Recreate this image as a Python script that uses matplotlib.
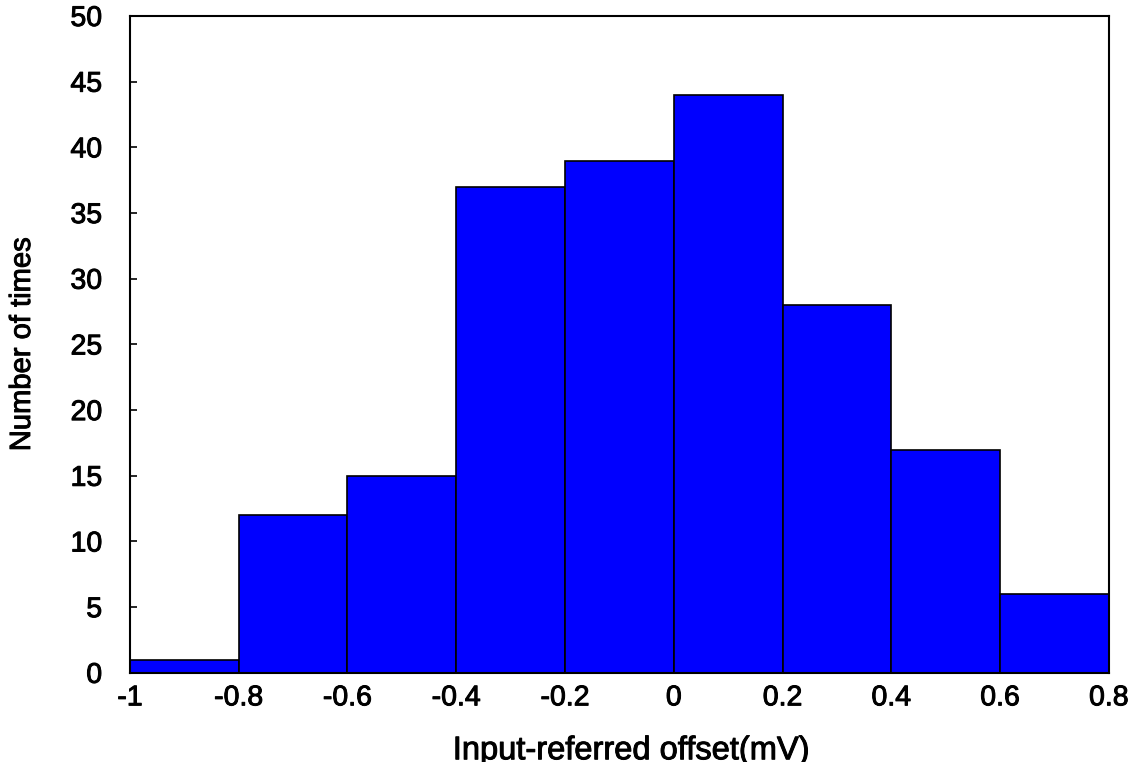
import numpy as np
import matplotlib.pyplot as plt
import matplotlib.patheffects as pe

plt.rcParams['font.family'] = ['Liberation Sans', 'DejaVu Sans']

# histogram of input-referred offset, bin edges in mV
bin_edges = [-1.0, -0.8, -0.6, -0.4, -0.2, 0.0, 0.2, 0.4, 0.6, 0.8]
counts = [1, 12, 15, 37, 39, 44, 28, 17, 6]
xticks = [-1, -0.8, -0.6, -0.4, -0.2, 0, 0.2, 0.4, 0.6, 0.8]
xtick_labels = ["-1", "-0.8", "-0.6", "-0.4", "-0.2", "0", "0.2", "0.4", "0.6", "0.8"]
yticks = [0, 5, 10, 15, 20, 25, 30, 35, 40, 45, 50]

fig = plt.figure(figsize=(11.35, 7.62), dpi=100)
ax = fig.add_axes([0.1145, 0.117, 0.8625, 0.862])

widths = np.diff(bin_edges)
ax.bar(bin_edges[:-1], counts, width=widths, align='edge',
       color='#0000ff', edgecolor='black', linewidth=1.2)

ax.set_xlim(-1, 0.8)
ax.set_ylim(0, 50)
ax.set_xticks(xticks)
ax.set_xticklabels(xtick_labels)
ax.set_yticks(yticks)

ax.tick_params(axis='x', length=0, pad=9, labelsize=20.5)
ax.tick_params(axis='y', direction='in', length=5, width=1.2, pad=20, labelsize=20.5)
for sp in ax.spines.values():
    sp.set_linewidth(1.5)

ax.set_xlabel("Input-referred offset(mV)", fontsize=23.5)
ax.set_ylabel("Number of times", fontsize=21)
ax.xaxis.set_label_coords(0.512, -0.095)
ax.yaxis.set_label_coords(-0.096, 0.5)

# slightly heavier strokes on all text
heavy = [pe.withStroke(linewidth=0.7, foreground='black')]
for t in ax.get_xticklabels() + ax.get_yticklabels() + [ax.xaxis.label, ax.yaxis.label]:
    t.set_path_effects(heavy)

fig.savefig("out.png", dpi=100)
